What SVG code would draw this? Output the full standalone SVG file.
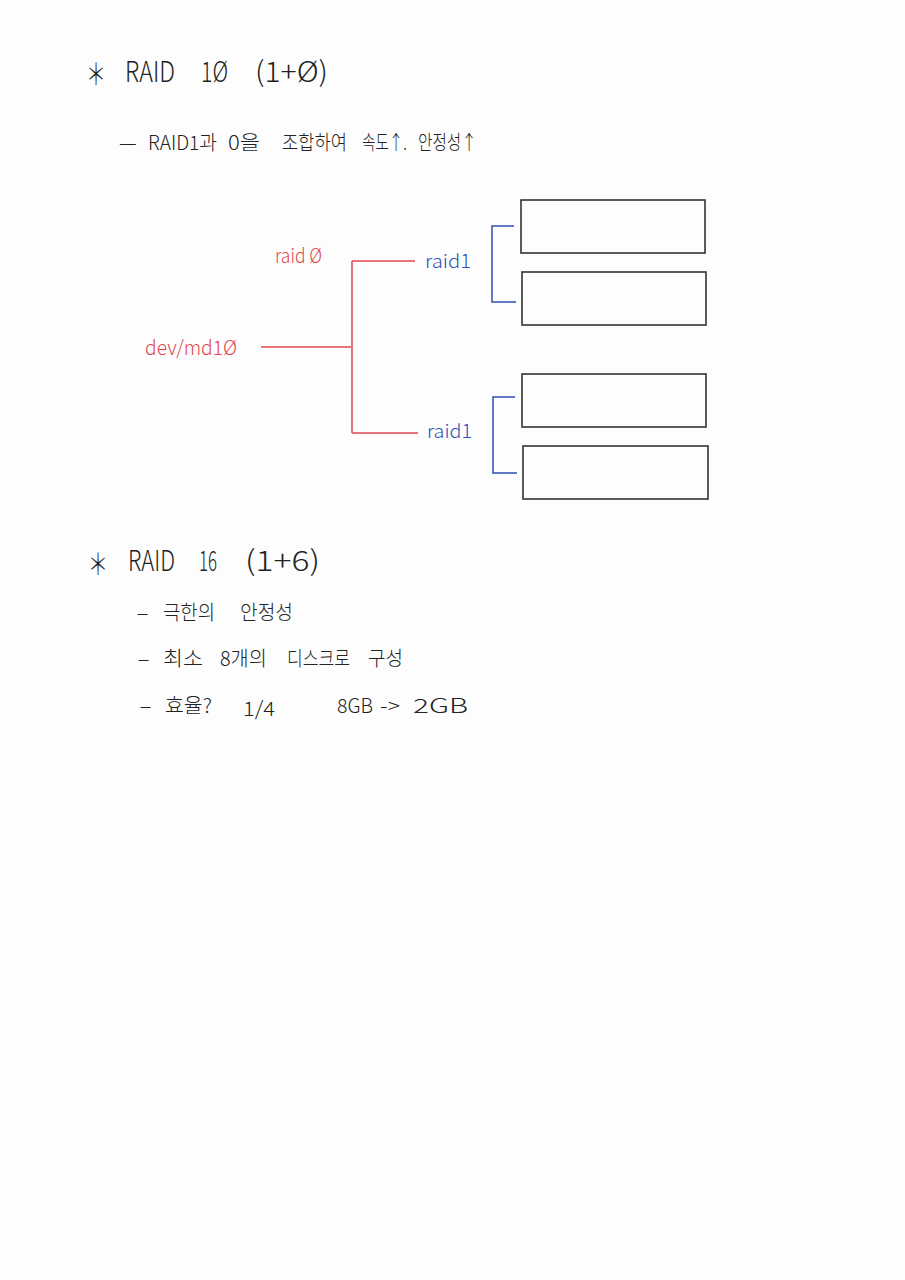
<svg xmlns="http://www.w3.org/2000/svg" width="905" height="1280" viewBox="0 0 905 1280">
<style>
text{font-family:"Noto Sans CJK KR","Noto Sans",sans-serif;font-weight:300;fill:#222}
.t{font-size:28px}
.ast{font-size:30px}
.b{font-size:20px}
.red{fill:#e0474c;font-size:20px}
.blue{fill:#2f4fb5;font-size:19px}
.box{fill:none;stroke:#333;stroke-width:1.6}
.rl{fill:none;stroke:#e0474c;stroke-width:1.5}
.bl{fill:none;stroke:#2f4fb5;stroke-width:1.5}
</style>
<rect width="905" height="1280" fill="#fdfdfd"/>
<g id="title1">
<text class="ast" x="86" y="85" textLength="20" lengthAdjust="spacingAndGlyphs">＊</text>
<text class="t" x="125" y="82" textLength="50" lengthAdjust="spacingAndGlyphs">RAID</text>
<text class="t" x="201" y="82" textLength="27" lengthAdjust="spacingAndGlyphs">1Ø</text>
<text class="t" x="255" y="82" textLength="73" lengthAdjust="spacingAndGlyphs">(1+Ø)</text>
</g>
<g id="line1">
<text class="b" x="119" y="150">—</text>
<text class="b" x="148" y="150" textLength="69" lengthAdjust="spacingAndGlyphs">RAID1과</text>
<text class="b" x="228" y="150" textLength="32" lengthAdjust="spacingAndGlyphs">0을</text>
<text class="b" x="282" y="150" textLength="65" lengthAdjust="spacingAndGlyphs">조합하여</text>
<text class="b" x="362" y="150" textLength="45" lengthAdjust="spacingAndGlyphs">속도↑.</text>
<text class="b" x="418" y="150" textLength="59" lengthAdjust="spacingAndGlyphs">안정성↑</text>
</g>
<g id="connectors">
<path class="rl" d="M261 347 H351 M352 261 V433 M352 261 H415 M352 433 H418"/>
<path class="bl" d="M514 226 H492 V302 H516"/>
<path class="bl" d="M515 397 H493 V473 H517"/>
</g>
<g id="label-raid0"><text class="red" x="275" y="263" textLength="47" lengthAdjust="spacingAndGlyphs">raid Ø</text></g>
<g id="label-md10"><text class="red" x="145" y="355" textLength="92" lengthAdjust="spacingAndGlyphs">dev/md1Ø</text></g>
<g id="label-raid1a"><text class="blue" x="425" y="268" textLength="46" lengthAdjust="spacingAndGlyphs">raid1</text></g>
<g id="label-raid1b"><text class="blue" x="427" y="438" textLength="45" lengthAdjust="spacingAndGlyphs">raid1</text></g>
<g id="disk1"><rect class="box" x="521" y="200" width="184" height="53"/></g>
<g id="disk2"><rect class="box" x="522" y="272" width="184" height="53"/></g>
<g id="disk3"><rect class="box" x="522" y="374" width="184" height="53"/></g>
<g id="disk4"><rect class="box" x="523" y="446" width="185" height="53"/></g>
<g id="title2">
<text class="ast" x="88" y="575" textLength="20" lengthAdjust="spacingAndGlyphs">＊</text>
<text class="t" x="128" y="571" textLength="47" lengthAdjust="spacingAndGlyphs">RAID</text>
<text class="t" x="199" y="571" textLength="18" lengthAdjust="spacingAndGlyphs">16</text>
<text class="t" x="245" y="571" textLength="75" lengthAdjust="spacingAndGlyphs">(1+6)</text>
</g>
<g id="item1">
<text class="b" x="137" y="620" textLength="11" lengthAdjust="spacingAndGlyphs">—</text>
<text class="b" x="163" y="620" textLength="52" lengthAdjust="spacingAndGlyphs">극한의</text>
<text class="b" x="240" y="620" textLength="53" lengthAdjust="spacingAndGlyphs">안정성</text>
</g>
<g id="item2">
<text class="b" x="138" y="666" textLength="11" lengthAdjust="spacingAndGlyphs">—</text>
<text class="b" x="163" y="666" textLength="40" lengthAdjust="spacingAndGlyphs">최소</text>
<text class="b" x="220" y="666" textLength="47" lengthAdjust="spacingAndGlyphs">8개의</text>
<text class="b" x="287" y="666" textLength="63" lengthAdjust="spacingAndGlyphs">디스크로</text>
<text class="b" x="368" y="666" textLength="35" lengthAdjust="spacingAndGlyphs">구성</text>
</g>
<g id="item3">
<text class="b" x="140" y="713" textLength="11" lengthAdjust="spacingAndGlyphs">—</text>
<text class="b" x="165" y="713" textLength="47" lengthAdjust="spacingAndGlyphs">효율?</text>
<text class="b" x="243" y="716" font-size="24" textLength="32" lengthAdjust="spacingAndGlyphs">1/4</text>
<text class="b" x="337" y="713" textLength="36" lengthAdjust="spacingAndGlyphs">8GB</text>
<text class="b" x="380" y="713" textLength="20" lengthAdjust="spacingAndGlyphs">-&gt;</text>
<text class="b" x="413" y="713" textLength="55" lengthAdjust="spacingAndGlyphs">2GB</text>
</g>
</svg>
